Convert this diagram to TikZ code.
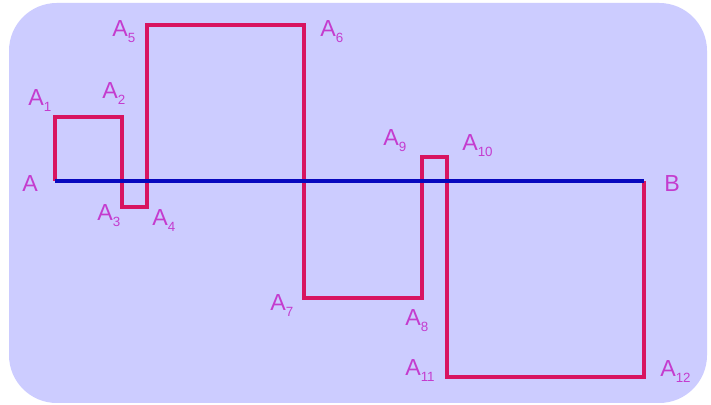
\documentclass[tikz,border=0pt]{standalone}
\usepackage{fontspec}
\setmainfont{Liberation Sans}
\usepackage{xcolor}
\usepackage{tikz}
\usetikzlibrary{calc,positioning}

\definecolor{lavender}{RGB}{204,204,255}
\definecolor{crimson}{RGB}{216,20,96}
\definecolor{deepblue}{RGB}{8,8,190}
\definecolor{violet}{RGB}{196,60,206}

\newcommand{\pt}[1]{A\raisebox{-0.45ex}{\fontsize{9.5}{9.5}\selectfont #1}}

\tikzset{
  zigzag/.style={draw=crimson, line width=3.3pt, line join=miter},
  segment/.style={draw=deepblue, line width=2.4pt},
  ptlabel/.style={anchor=base west, inner sep=0pt, text=violet, font=\fontsize{16.5}{19}\selectfont}
}

\begin{document}
\begin{tikzpicture}[x=0.025cm,y=-0.025cm]
\useasboundingbox (0,0) rectangle (711,405);
%Background
\fill[white] (0,0) rectangle (711,405);
\fill[lavender, rounded corners=34] (9,3) rectangle (707,403);

%Points
\coordinate (A) at (55,181);
\coordinate (A1) at (55,117);
\coordinate (A2) at (122,117);
\coordinate (A3) at (122,207);
\coordinate (A4) at (147,207);
\coordinate (A5) at (147,25);
\coordinate (A6) at (304,25);
\coordinate (A7) at (304,298);
\coordinate (A8) at (422,298);
\coordinate (A9) at (422,157);
\coordinate (A10) at (447,157);
\coordinate (A11) at (447,377);
\coordinate (A12) at (644,377);
\coordinate (B) at (644,181);

%Broken line
\draw[zigzag] (A) -- (A1) -- (A2) -- (A3) -- (A4) -- (A5) -- (A6) -- (A7) -- (A8)
  -- (A9) -- (A10) -- (A11) -- (A12) -- (B);

%Segment AB
\draw[segment] (A) -- (B);

%Labels
\node[ptlabel] (labA) at (22,192) {A};
\node[ptlabel] (lab1) at (28,106) {\pt{1}};
\node[ptlabel] (lab2) at (102,99) {\pt{2}};
\node[ptlabel] (lab3) at (97,221) {\pt{3}};
\node[ptlabel] (lab4) at (152,226) {\pt{4}};
\node[ptlabel] (lab5) at (112,37) {\pt{5}};
\node[ptlabel] (lab6) at (320,37) {\pt{6}};
\node[ptlabel] (lab7) at (270,311) {\pt{7}};
\node[ptlabel] (lab8) at (405,326) {\pt{8}};
\node[ptlabel] (lab9) at (383,146) {\pt{9}};
\node[ptlabel] (lab10) at (462,151) {\pt{10}};
\node[ptlabel] (lab11) at (405,376) {\pt{11}};
\node[ptlabel] (lab12) at (660,377) {\pt{12}};
\node[ptlabel] (labB) at (664,192) {B};
\end{tikzpicture}
\end{document}
